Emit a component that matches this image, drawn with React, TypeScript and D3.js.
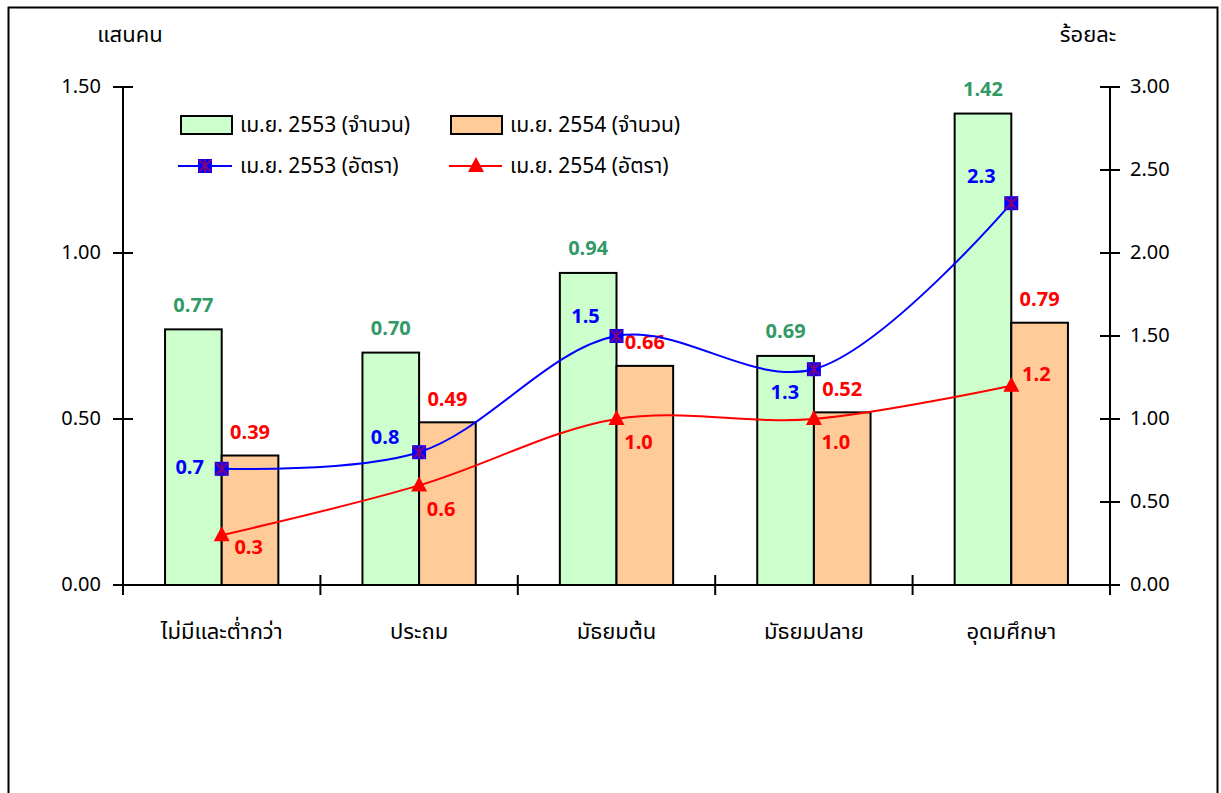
import * as d3 from "d3"

const categories = ["ไม่มีและต่ำกว่า", "ประถม", "มัธยมต้น", "มัธยมปลาย", "อุดมศึกษา"]
const count2553 = [0.77, 0.7, 0.94, 0.69, 1.42]
const count2554 = [0.39, 0.49, 0.66, 0.52, 0.79]
const rate2553 = [0.7, 0.8, 1.5, 1.3, 2.3]
const rate2554 = [0.3, 0.6, 1.0, 1.0, 1.2]
const leftTicks = [0, 0.5, 1.0, 1.5]
const rightTicks = [0, 0.5, 1.0, 1.5, 2.0, 2.5, 3.0]
const legendLabels = [
  "เม.ย. 2553 (จำนวน)",
  "เม.ย. 2554 (จำนวน)",
  "เม.ย. 2553 (อัตรา)",
  "เม.ย. 2554 (อัตรา)",
]

// where the rate labels sit relative to their points
const bluePlace = [
  [-32, 0],
  [-34, -14],
  [-31, -19],
  [-29, 24],
  [-30, -26],
]
const redPlace = [
  [27, 13],
  [22, 25],
  [22, 24],
  [22, 24],
  [25, -10],
]

const W = 1221
const H = 793
const FONT = "Tahoma, 'Leelawadee UI', 'Noto Sans Thai', 'Noto Sans', sans-serif"
const GREEN = "#ccffcc"
const ORANGE = "#ffcc99"
const LABEL_GREEN = "#339966"

export default function App() {
  const left = 123
  const right = 1110
  const top = 87
  const bottom = 585

  const x = d3.scaleBand<string>().domain(categories).range([left, right])
  const yL = d3.scaleLinear().domain([0, 1.5]).range([bottom, top])
  const yR = d3.scaleLinear().domain([0, 3]).range([bottom, top])
  const barW = x.bandwidth() * 0.287
  const cx = (c: string) => (x(c) as number) + x.bandwidth() / 2

  const line = d3
    .line<number>()
    .x((_, i) => cx(categories[i]))
    .y((d) => yR(d))
    .curve(d3.curveCatmullRom.alpha(0.5))

  const square = (px: number, py: number, key: string) => (
    <g key={key}>
      <rect x={px - 7} y={py - 7} width={14} height={14} fill="#0000ff" />
      <path
        d={`M${px - 6},${py - 6}L${px + 6},${py + 6}M${px + 6},${py - 6}L${px - 6},${py + 6}M${px},${py - 7}L${px},${py + 7}`}
        stroke="#800080"
        strokeWidth={2}
      />
    </g>
  )
  const tri = (px: number, py: number, key: string) => (
    <path key={key} d={`M${px},${py - 9}L${px + 8},${py + 6}L${px - 8},${py + 6}Z`} fill="#ff0000" />
  )

  const boundaries = d3.range(categories.length + 1).map((i) => left + i * x.step())

  return (
    <div style={{ position: "absolute", left: 0, top: 0 }}>
      <svg width={W} height={H} style={{ display: "block", fontFamily: FONT }}>
        <rect x={0} y={0} width={W} height={H} fill="#fff" />
        <rect x={8.5} y={7.5} width={1209} height={H + 20} fill="none" stroke="#000" strokeWidth={2} />

        {/* axis titles */}
        <text x={130} y={36} fontSize={22} textAnchor="middle" dominantBaseline="middle">แสนคน</text>
        <text x={1088} y={36} fontSize={22} textAnchor="middle" dominantBaseline="middle">ร้อยละ</text>

        {/* bars */}
        {categories.map((c, i) => (
          <g key={c}>
            <rect
              x={cx(c) - barW}
              y={yL(count2553[i])}
              width={barW}
              height={bottom - yL(count2553[i])}
              fill={GREEN}
              stroke="#000"
              strokeWidth={2}
            />
            <rect
              x={cx(c)}
              y={yL(count2554[i])}
              width={barW}
              height={bottom - yL(count2554[i])}
              fill={ORANGE}
              stroke="#000"
              strokeWidth={2}
            />
            <text
              x={cx(c) - barW / 2}
              y={yL(count2553[i]) - 23}
              fontSize={20}
              fontWeight="bold"
              fill={LABEL_GREEN}
              textAnchor="middle"
              dominantBaseline="middle"
            >
              {count2553[i].toFixed(2)}
            </text>
            <text
              x={cx(c) + barW / 2}
              y={yL(count2554[i]) - 22}
              fontSize={20}
              fontWeight="bold"
              fill="#ff0000"
              textAnchor="middle"
              dominantBaseline="middle"
            >
              {count2554[i].toFixed(2)}
            </text>
          </g>
        ))}

        {/* axes */}
        <line x1={left} x2={left} y1={top} y2={bottom} stroke="#000" strokeWidth={2} />
        <line x1={right} x2={right} y1={top} y2={bottom} stroke="#000" strokeWidth={2} />
        <line x1={left - 10} x2={right + 10} y1={bottom} y2={bottom} stroke="#000" strokeWidth={2} />
        {leftTicks.map((t) => (
          <g key={"l" + t}>
            <line x1={left - 10} x2={left + 10} y1={yL(t)} y2={yL(t)} stroke="#000" strokeWidth={2} />
            <text x={101} y={yL(t)} fontSize={20} textAnchor="end" dominantBaseline="middle">
              {t.toFixed(2)}
            </text>
          </g>
        ))}
        {rightTicks.map((t) => (
          <g key={"r" + t}>
            <line x1={right - 10} x2={right + 10} y1={yR(t)} y2={yR(t)} stroke="#000" strokeWidth={2} />
            <text x={1130} y={yR(t)} fontSize={20} textAnchor="start" dominantBaseline="middle">
              {t.toFixed(2)}
            </text>
          </g>
        ))}
        {boundaries.map((b, i) => (
          <line key={"b" + i} x1={b} x2={b} y1={bottom - 10} y2={bottom + 10} stroke="#000" strokeWidth={2} />
        ))}
        {categories.map((c) => (
          <text key={"c" + c} x={cx(c)} y={633} fontSize={22} textAnchor="middle" dominantBaseline="middle">
            {c}
          </text>
        ))}

        {/* rate lines */}
        <path d={line(rate2553) ?? ""} fill="none" stroke="#0000ff" strokeWidth={2} />
        <path d={line(rate2554) ?? ""} fill="none" stroke="#ff0000" strokeWidth={2} />
        {rate2553.map((v, i) => square(cx(categories[i]), yR(v), "s" + i))}
        {rate2554.map((v, i) => tri(cx(categories[i]), yR(v), "t" + i))}
        {rate2553.map((v, i) => (
          <text
            key={"bl" + i}
            x={cx(categories[i]) + bluePlace[i][0]}
            y={yR(v) + bluePlace[i][1]}
            fontSize={20}
            fontWeight="bold"
            fill="#0000ff"
            textAnchor="middle"
            dominantBaseline="middle"
          >
            {v.toFixed(1)}
          </text>
        ))}
        {rate2554.map((v, i) => (
          <text
            key={"rl" + i}
            x={cx(categories[i]) + redPlace[i][0]}
            y={yR(v) + redPlace[i][1]}
            fontSize={20}
            fontWeight="bold"
            fill="#ff0000"
            textAnchor="middle"
            dominantBaseline="middle"
          >
            {v.toFixed(1)}
          </text>
        ))}

        {/* legend */}
        <rect x={181} y={116} width={51} height={18} fill={GREEN} stroke="#000" strokeWidth={2} />
        <text x={240} y={126} fontSize={21} dominantBaseline="middle">{legendLabels[0]}</text>
        <rect x={451} y={116} width={51} height={18} fill={ORANGE} stroke="#000" strokeWidth={2} />
        <text x={510} y={126} fontSize={21} dominantBaseline="middle">{legendLabels[1]}</text>
        <line x1={178} x2={232} y1={166} y2={166} stroke="#0000ff" strokeWidth={2} />
        {square(205, 166, "lg1")}
        <text x={240} y={167} fontSize={21} dominantBaseline="middle">{legendLabels[2]}</text>
        <line x1={449} x2={502} y1={166} y2={166} stroke="#ff0000" strokeWidth={2} />
        {tri(476, 166, "lg2")}
        <text x={510} y={167} fontSize={21} dominantBaseline="middle">{legendLabels[3]}</text>
      </svg>
    </div>
  )
}
